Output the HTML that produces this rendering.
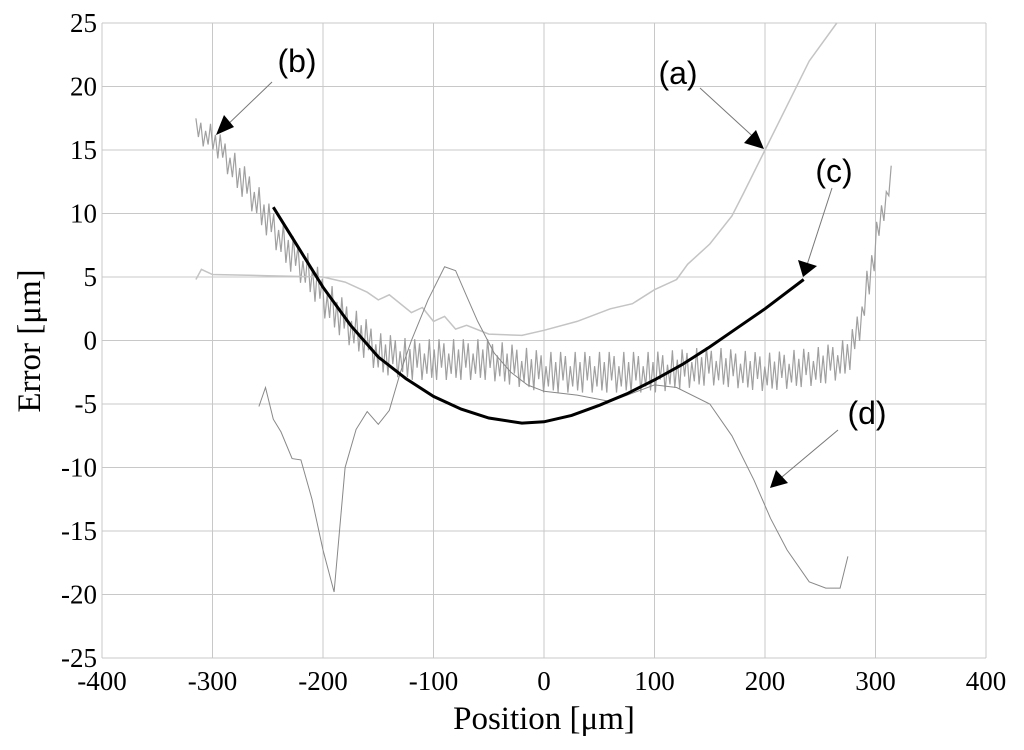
<!DOCTYPE html>
<html><head><meta charset="utf-8"><style>
body{margin:0;background:#fff;}
svg text{font-family:"Liberation Serif",serif;}
</style></head><body>
<svg id="chart" width="1024" height="745" viewBox="0 0 1024 745" xmlns="http://www.w3.org/2000/svg">
<g id="grid"></g>
<g id="series"></g>
<g id="ticks"></g>
<text x="544" y="729" font-size="33" text-anchor="middle">Position [μm]</text>
<text transform="translate(40,341) rotate(-90)" font-size="33" text-anchor="middle">Error [μm]</text>
<g>
<text x="297" y="72" font-size="32" text-anchor="middle" style="font-family:'Liberation Sans',sans-serif">(b)</text>
<text x="678" y="84" font-size="32" text-anchor="middle" style="font-family:'Liberation Sans',sans-serif">(a)</text>
<text x="834" y="182" font-size="32" text-anchor="middle" style="font-family:'Liberation Sans',sans-serif">(c)</text>
<text x="867" y="424" font-size="32" text-anchor="middle" style="font-family:'Liberation Sans',sans-serif">(d)</text>
<line x1="272" y1="82" x2="222" y2="130" stroke="#777" stroke-width="1"/>
<polygon points="216,135 224,115 234,127" fill="#000"/>
<line x1="700" y1="88" x2="760" y2="143" stroke="#777" stroke-width="1"/>
<polygon points="764,149 744,143 756,130" fill="#000"/>
<line x1="832" y1="188" x2="806" y2="268" stroke="#777" stroke-width="1"/>
<polygon points="803,277 798,260 817,266" fill="#000"/>
<line x1="838" y1="430" x2="776" y2="482" stroke="#777" stroke-width="1"/>
<polygon points="770,488 776,470 788,483" fill="#000"/>
</g>
</svg>
<script>
const xTicks=[-400,-300,-200,-100,0,100,200,300,400];
const yTicks=[25,20,15,10,5,0,-5,-10,-15,-20,-25];
const aX=[-315,-310,-300,-250,-200,-180,-160,-150,-140,-120,-110,-100,-90,-80,-70,-50,-20,0,30,60,80,100,120,130,150,170,180,200,220,240,265];
const aY=[4.8,5.6,5.2,5.1,5,4.6,3.8,3.2,3.6,2.2,2.6,1.5,1.9,0.9,1.2,0.5,0.4,0.8,1.5,2.5,2.9,4,4.8,6,7.6,9.8,11.5,15,18.5,22,25];
const bX=[-315,-300,-280,-260,-250,-230,-210,-200,-180,-160,-150,-120,-100,-50,0,50,100,150,200,250,270,280,290,300,310,315];
const bY=[16.5,16,13.5,11,9.5,7,5,3.5,1.5,0,-1,-1.5,-1.5,-1.5,-2.5,-2.5,-2.5,-2,-2.5,-2,-1.5,-0.5,3,7.5,11.5,13];
const bAmp=[1,1,1.3,1.4,1.4,1.5,1.5,1.6,1.6,1.6,1.6,1.6,1.6,1.6,1.6,1.6,1.6,1.5,1.5,1.5,1.5,1.5,1.5,1.5,1,1];
const cX=[-245,-220,-200,-175,-150,-125,-100,-75,-50,-20,0,25,50,75,100,125,150,175,200,235];
const cY=[10.5,7,4.2,1.2,-1.3,-3,-4.4,-5.4,-6.1,-6.5,-6.4,-5.9,-5.1,-4.2,-3.1,-1.9,-0.5,1,2.5,4.8];
const dX=[-258,-252,-245,-238,-228,-220,-210,-200,-190,-180,-170,-160,-150,-140,-130,-120,-105,-90,-80,-70,-60,-45,-30,-15,0,30,60,100,120,150,170,190,205,220,240,255,268,275];
const dY=[-5.2,-3.7,-6.2,-7.2,-9.3,-9.4,-12.5,-16.5,-19.8,-10,-7,-5.6,-6.6,-5.5,-2.5,0,3.2,5.8,5.5,3.5,1.5,-1,-2.5,-3.5,-4,-4.3,-4.8,-3.5,-3.7,-5,-7.5,-11,-14,-16.5,-19,-19.5,-19.5,-17];
const X=v=>544+1.105*v, Y=v=>340.5-12.7*v;
const NS="http://www.w3.org/2000/svg";
function mk(t,at,p){const e=document.createElementNS(NS,t);for(const k in at)e.setAttribute(k,at[k]);p.appendChild(e);return e;}
const g=document.getElementById('grid'),tk=document.getElementById('ticks'),s=document.getElementById('series');
xTicks.forEach(v=>{
 const l=mk('line',{x1:X(v),x2:X(v),y1:Y(25),y2:Y(-25),stroke:'#c8c8c8','stroke-width':1},g);
 
 
 const t=mk('text',{x:X(v),y:690,'font-size':27,'text-anchor':'middle'},tk);t.textContent=v;
 
 
});
yTicks.forEach(v=>{
 const l=mk('line',{x1:X(-400),x2:X(400),y1:Y(v),y2:Y(v),stroke:'#c8c8c8','stroke-width':1},g);
 
 
 const t=mk('text',{x:97,y:Y(v)+9,'font-size':27,'text-anchor':'end'},tk);t.textContent=v;
 
 
});
function path(xs,ys,st,name){const d=xs.map((x,i)=>(i?'L':'M')+X(x).toFixed(1)+','+Y(ys[i]).toFixed(1)).join('');
 const p=mk('path',Object.assign({d:d,fill:'none'},st),s);
 
 }
function interp(xs,ys,x){for(let i=1;i<xs.length;i++)if(x<=xs[i]){const t=(x-xs[i-1])/(xs[i]-xs[i-1]);return ys[i-1]+t*(ys[i]-ys[i-1]);}return ys[ys.length-1];}
const pat=[1,-0.4,0.8,-1,0.3,-0.7,1,-0.9,0.5,-1];
const bxs=[],bys=[];let k=0;
for(let x=bX[0];x<=bX[bX.length-1];x+=2.2,k++){bxs.push(x);bys.push(interp(bX,bY,x)+pat[k%pat.length]*interp(bX,bAmp,x));}
path(bxs,bys,{stroke:'#a0a0a0','stroke-width':1.2},'series-b');
path(aX,aY,{stroke:'#c4c4c4','stroke-width':1.5},'series-a');
path(dX,dY,{stroke:'#888','stroke-width':1},'series-d');
path(cX,cY,{stroke:'#000','stroke-width':3},'series-c');
</script>
</body></html>
